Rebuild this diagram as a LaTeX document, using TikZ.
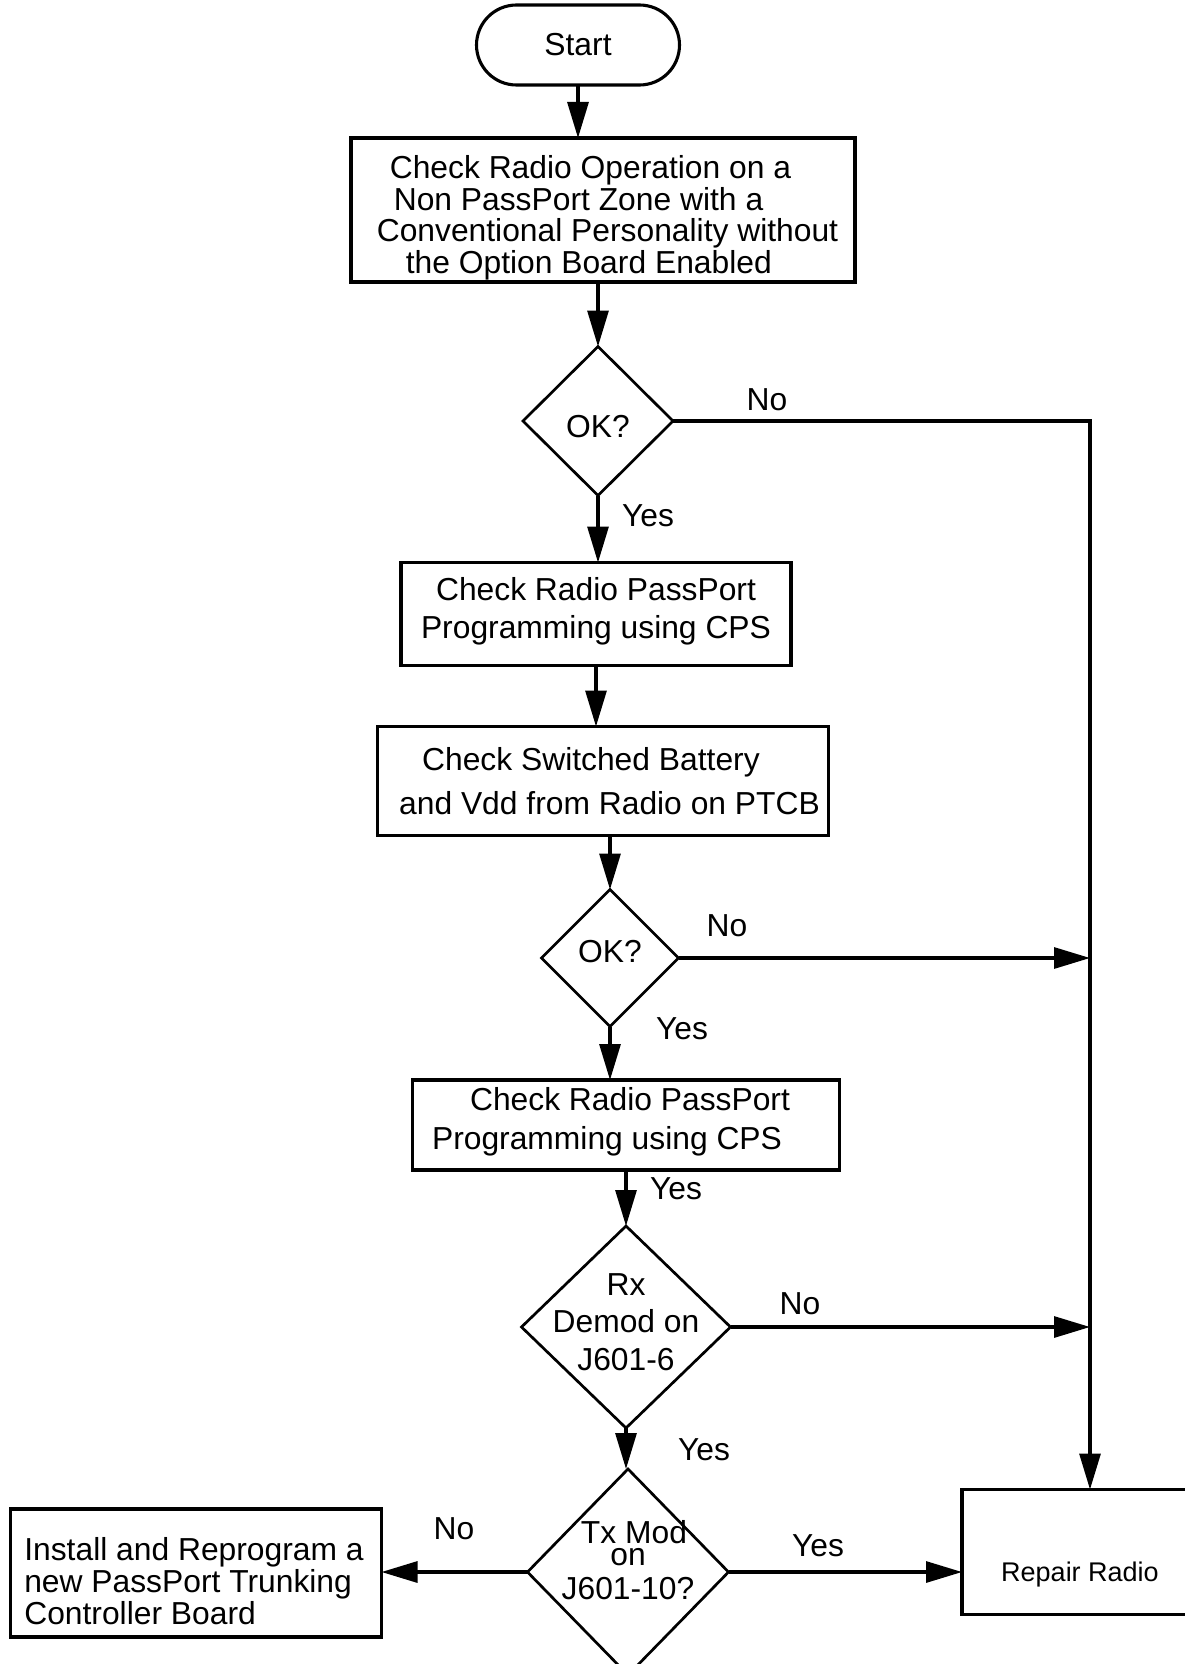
\documentclass[tikz,border=0pt]{standalone}
\usepackage{fontspec}
\setmainfont{Liberation Sans}
\usetikzlibrary{shapes.geometric,arrows.meta}
\begin{document}
\begin{tikzpicture}[x=1pt,y=-1pt,
  line width=3.1pt,
  every node/.style={inner sep=0pt, outer sep=0pt},
  box/.style={draw, rectangle},
  dia/.style={draw, diamond, line width=2.7pt},
  txt/.style={align=center},
  lbl/.style={font=\fontsize{31.8pt}{36pt}\selectfont},
  arr/.style={-{Triangle[length=36pt,width=21pt]}},
]
\useasboundingbox (0,0) rectangle (1184,1664);

% boxes and their texts
\node[draw, rounded corners=40pt, minimum width=203pt, minimum height=80pt,
      font=\fontsize{31.8pt}{36pt}\selectfont] (start) at (578,45) {Start};

\node[box, minimum width=504pt, minimum height=144pt] (b1) at (603,210) {};
\node[align=left, font=\fontsize{31.8pt}{31.5pt}\selectfont] (b1t) at ([yshift=-8pt]b1.center)
  {\hspace*{22pt}Check Radio Operation on a\\
   \hspace*{26pt}Non PassPort Zone with a\\
   \hspace*{9pt}Conventional Personality without\\
   \hspace*{38pt}the Option Board Enabled};

\node[dia, minimum width=150pt, minimum height=149pt] (ok1) at (598,421) {};
\node[txt, font=\fontsize{31.8pt}{36pt}\selectfont] (ok1t) at ([yshift=-6pt]ok1.center) {OK?};

\node[box, minimum width=390pt, minimum height=103pt] (b2) at (596,614) {};
\node[txt, font=\fontsize{31.8pt}{38pt}\selectfont] (b2t) at ([yshift=3pt]b2.center)
  {Check Radio PassPort\\Programming using CPS};

\node[box, minimum width=451pt, minimum height=109pt] (b3) at (603,781) {};
\node[align=left, font=\fontsize{31.8pt}{44pt}\selectfont] (b3t) at (b3.center)
  {\hspace*{36pt}Check Switched Battery\\\hspace*{13pt}and Vdd from Radio on PTCB};

\node[dia, minimum width=137pt, minimum height=137pt] (ok2) at (610,958) {};
\node[txt, font=\fontsize{31.8pt}{36pt}\selectfont] (ok2t) at ([yshift=6pt]ok2.center) {OK?};

\node[box, minimum width=427pt, minimum height=90pt] (b4) at (626,1125) {};
\node[align=left, font=\fontsize{31.8pt}{39pt}\selectfont] (b4t) at ([yshift=3pt]b4.center)
  {\hspace*{38pt}Check Radio PassPort\hspace*{30pt}\\Programming using CPS};

\node[dia, minimum width=209pt, minimum height=202pt] (rx) at (626,1327) {};
\node[txt, font=\fontsize{31.8pt}{37.5pt}\selectfont] (rxt) at ([yshift=5pt]rx.center)
  {Rx\\Demod on\\J601-6};

\node[dia, minimum width=201pt, minimum height=206pt] (tx) at (628,1572) {};
\node[txt, font=\fontsize{31.8pt}{34pt}\selectfont] (txt) at ([yshift=12pt]tx.center)
  {\hspace*{12pt}Tx Mod\\[-12pt]on\hspace*{12pt}\\J601-10?};

\node[box, minimum width=236pt, minimum height=125pt] (rep) at (1080,1552) {};
\node[font=\fontsize{27pt}{30pt}\selectfont] (rept) at ([yshift=-22pt]rep.center) {Repair Radio};

\node[box, minimum width=371pt, minimum height=128pt] (b5) at (196,1573) {};
\node[align=left, font=\fontsize{31.8pt}{32pt}\selectfont] (b5t) at ([xshift=-2pt,yshift=-8pt]b5.center)
  {Install and Reprogram a\\new PassPort Trunking\\Controller Board};

\coordinate (rail) at (1090,0);

% connectors
\draw[arr] (start.south) -- (start.south |- b1.north);
\draw[arr] (b1.south -| ok1.north) -- (ok1.north);
\draw[arr] (ok1.south) -- (ok1.south |- b2.north);
\draw[arr] (b2.south) -- (b2.south |- b3.north);
\draw[arr] (b3.south -| ok2.north) -- (ok2.north);
\draw[arr] (ok2.south) -- (ok2.south |- b4.north);
\draw[arr] (b4.south -| rx.north) -- (rx.north);
\draw[arr] (rx.south) -- (rx.south |- tx.north);

\draw[arr] (ok1.east) -- (ok1.east -| rail) -- (rail |- rep.north);
\draw[arr] (ok2.east) -- (ok2.east -| rail);
\draw[arr] (rx.east) -- (rx.east -| rail);
\draw[arr] (tx.east) -- (tx.east -| rep.west);
\draw[arr] (tx.west) -- (tx.west -| b5.east);

% labels
\node[lbl] (l1) at (767,400) {No};
\node[lbl] (l2) at (648,516) {Yes};
\node[lbl] (l3) at (727,926) {No};
\node[lbl] (l4) at (682,1029) {Yes};
\node[lbl] (l5) at (676,1189) {Yes};
\node[lbl] (l6) at (800,1304) {No};
\node[lbl] (l7) at (704,1450) {Yes};
\node[lbl] (l8) at (818,1546) {Yes};
\node[lbl] (l9) at (454,1529) {No};
\end{tikzpicture}
\end{document}
